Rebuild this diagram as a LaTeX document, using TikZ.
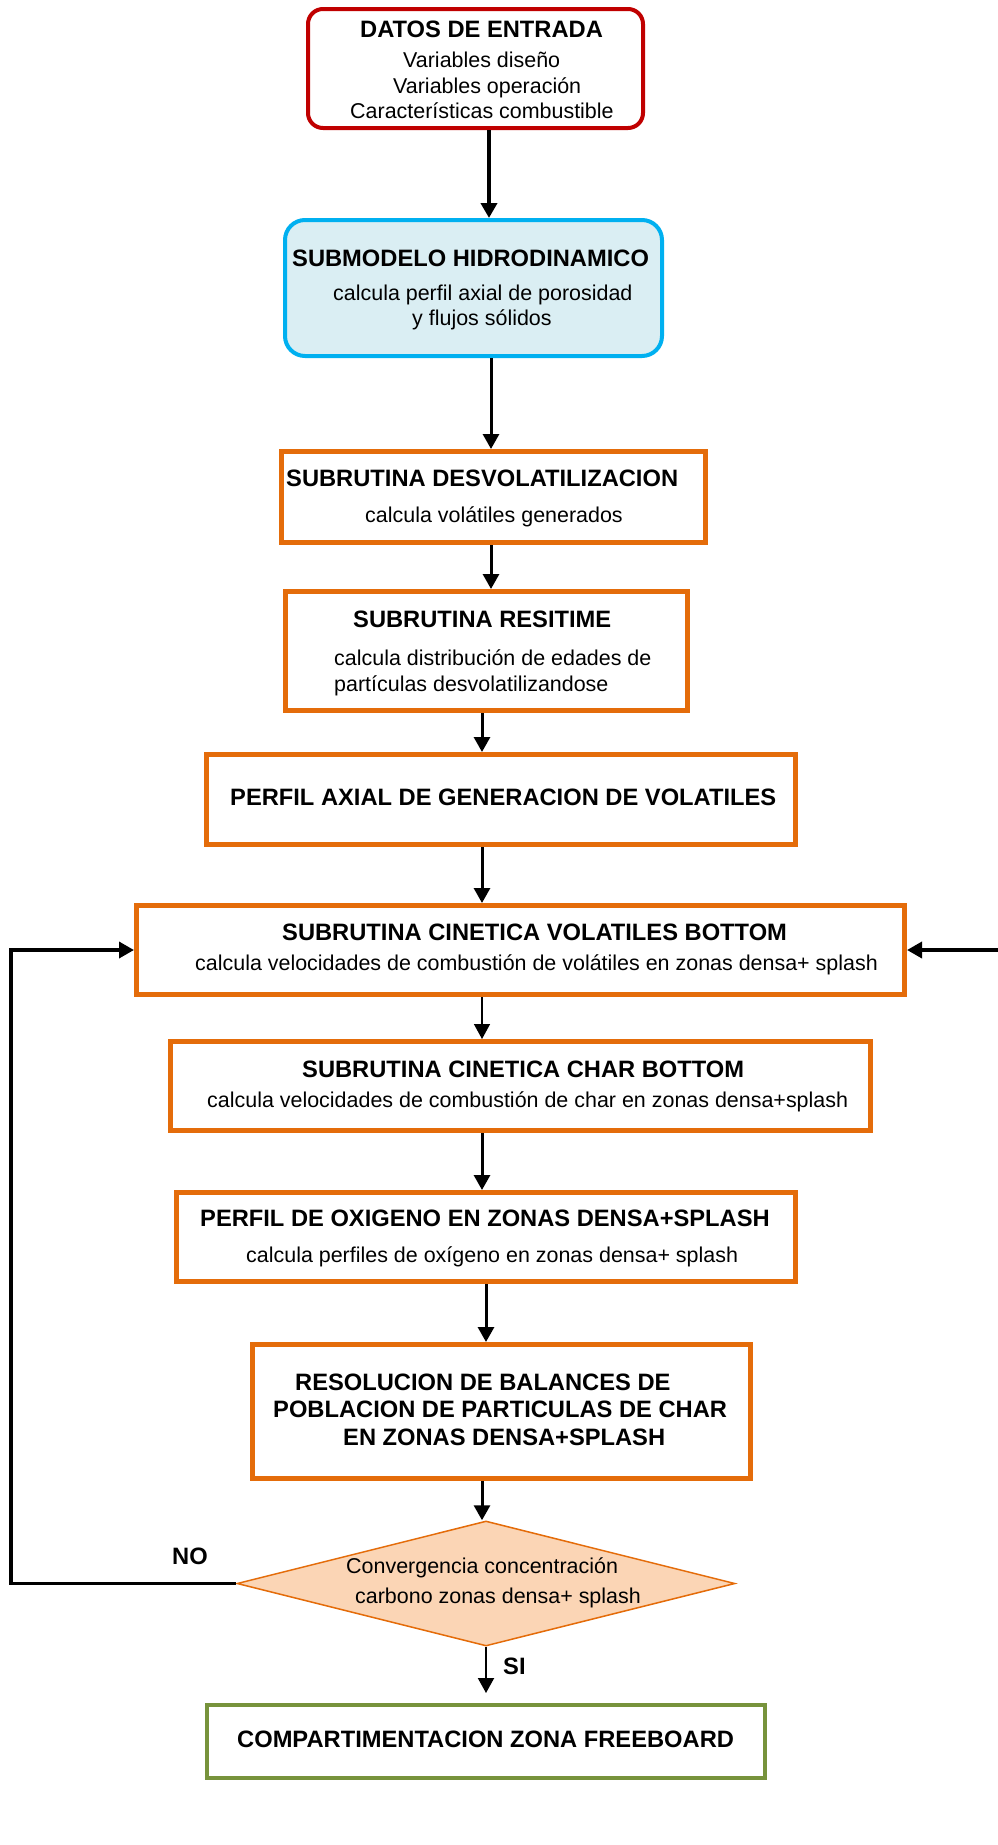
\documentclass[tikz,border=0pt]{standalone}
\usepackage{fontspec}
\setmainfont{Liberation Sans}
\usetikzlibrary{shapes.geometric,arrows.meta}
\definecolor{dred}{HTML}{C00000}
\definecolor{sky}{HTML}{00B0F0}
\definecolor{skyfill}{HTML}{DAEEF3}
\definecolor{orng}{HTML}{E46C0A}
\definecolor{peach}{HTML}{FBD5B5}
\definecolor{olive}{HTML}{77933C}
\newcommand\titf{\fontsize{23.7}{28}\selectfont\bfseries}
\newcommand\bodyf{\fontsize{21.45}{26}\selectfont}
\begin{document}
\begin{tikzpicture}[x=1pt,y=-1pt,
  obox/.style={rectangle,inner sep=0pt,draw=orng,line width=5pt},
  txt/.style={anchor=base west,inner sep=0pt,font=\bodyf},
  ttl/.style={anchor=base west,inner sep=0pt,font=\titf},
  arr/.style={draw=black,line width=3pt,-{Triangle[length=15pt,width=16pt]}},
]
\fill[white] (0,0) rectangle (998,1845);
\useasboundingbox (0,0) rectangle (998,1845);

% boxes
\node[rectangle,draw=dred,line width=4pt,rounded corners=15pt,inner sep=0pt,
      minimum width=335pt,minimum height=119pt] (datos) at (475.5,68.5) {};
\node[rectangle,draw=sky,fill=skyfill,line width=4pt,rounded corners=20pt,inner sep=0pt,
      minimum width=377pt,minimum height=136pt] (sub) at (473.5,288) {};
\node[obox,minimum width=424pt,minimum height=91pt] (desv) at (493.5,497) {};
\node[obox,minimum width=402pt,minimum height=119pt] (resi) at (486.5,651) {};
\node[obox,minimum width=589pt,minimum height=90pt] (perf) at (501,799.5) {};
\node[obox,minimum width=768pt,minimum height=89pt] (vola) at (520.5,950) {};
\node[obox,minimum width=700pt,minimum height=89pt] (char) at (520.5,1086) {};
\node[obox,minimum width=619pt,minimum height=89pt] (oxig) at (486,1237) {};
\node[obox,minimum width=498pt,minimum height=134pt] (reso) at (501.5,1411.5) {};
\node[diamond,draw=orng,fill=peach,line width=1.5pt,inner sep=0pt,aspect=3.98,
      minimum width=498pt,minimum height=125pt] (conv) at (486,1583.5) {};
\node[rectangle,draw=olive,line width=4.5pt,inner sep=0pt,
      minimum width=558pt,minimum height=73pt] (free) at (486,1741.5) {};

% texts
\node[ttl] (t1) at (360,37) {DATOS DE ENTRADA};
\node[txt] (t1a) at (403,67) {Variables diseño};
\node[txt] (t1b) at (393,93) {Variables operación};
\node[txt] (t1c) at (350,118) {Características combustible};

\node[ttl] (t2) at (292,266) {SUBMODELO HIDRODINAMICO};
\node[txt] (t2a) at (333,300) {calcula perfil axial de porosidad};
\node[txt] (t2b) at (412,325) {y flujos sólidos};

\node[ttl] (t3) at (286,486) {SUBRUTINA DESVOLATILIZACION};
\node[txt] (t3a) at (365,522) {calcula volátiles generados};

\node[ttl] (t4) at (353,627) {SUBRUTINA RESITIME};
\node[txt] (t4a) at (334,665) {calcula distribución de edades de};
\node[txt] (t4b) at (334,691) {partículas desvolatilizandose};

\node[ttl] (t5) at (230,805) {PERFIL AXIAL DE GENERACION DE VOLATILES};

\node[ttl] (t6) at (282,940) {SUBRUTINA CINETICA VOLATILES BOTTOM};
\node[txt] (t6a) at (195,970) {calcula velocidades de combustión de volátiles en zonas densa+ splash};

\node[ttl] (t7) at (302,1077) {SUBRUTINA CINETICA CHAR BOTTOM};
\node[txt] (t7a) at (207,1107) {calcula velocidades de combustión de char en zonas densa+splash};

\node[ttl] (t8) at (200,1226) {PERFIL DE OXIGENO EN ZONAS DENSA+SPLASH};
\node[txt] (t8a) at (246,1262) {calcula perfiles de oxígeno en zonas densa+ splash};

\node[ttl] (t9) at (295,1390) {RESOLUCION DE BALANCES DE};
\node[ttl] (t9a) at (273,1417) {POBLACION DE PARTICULAS DE CHAR};
\node[ttl] (t9b) at (343,1445) {EN ZONAS DENSA+SPLASH};

\node[txt] (t10) at (346,1573) {Convergencia concentración};
\node[txt] (t10a) at (355,1603) {carbono zonas densa+ splash};

\node[ttl] (t11) at (237,1747) {COMPARTIMENTACION ZONA FREEBOARD};

\node[ttl] (no) at (172,1564) {NO};
\node[ttl] (si) at (503,1674) {SI};

% column coordinates
\coordinate (x489) at (489,0);
\coordinate (x491) at (491,0);
\coordinate (x482) at (482,0);
\coordinate (x486) at (486,0);
\coordinate (siend) at (486,1693);
\coordinate (loopc) at (11,1583.5);
\coordinate (rin) at (998,950);

% connectors
\draw[arr,line width=4.5pt] (datos.south -| x489) -- (sub.north -| x489);
\draw[arr] (sub.south -| x491) -- (desv.north -| x491);
\draw[arr] (desv.south -| x491) -- (resi.north -| x491);
\draw[arr] (resi.south -| x482) -- (perf.north -| x482);
\draw[arr] (perf.south -| x482) -- (vola.north -| x482);
\draw[arr,line width=1.5pt] (vola.south -| x482) -- (char.north -| x482);
\draw[arr] (char.south -| x482) -- (oxig.north -| x482);
\draw[arr] (oxig.south -| x486) -- (reso.north -| x486);
\draw[arr] (reso.south -| x482) -- (conv.north -| x482);
\draw[arr,line width=2pt] (conv.south) -- (siend);
\draw[arr,line width=3.5pt] (conv.west) -- (loopc) |- (vola.west);
\draw[arr,line width=3.5pt] (rin) -- (vola.east);
\end{tikzpicture}
\end{document}
